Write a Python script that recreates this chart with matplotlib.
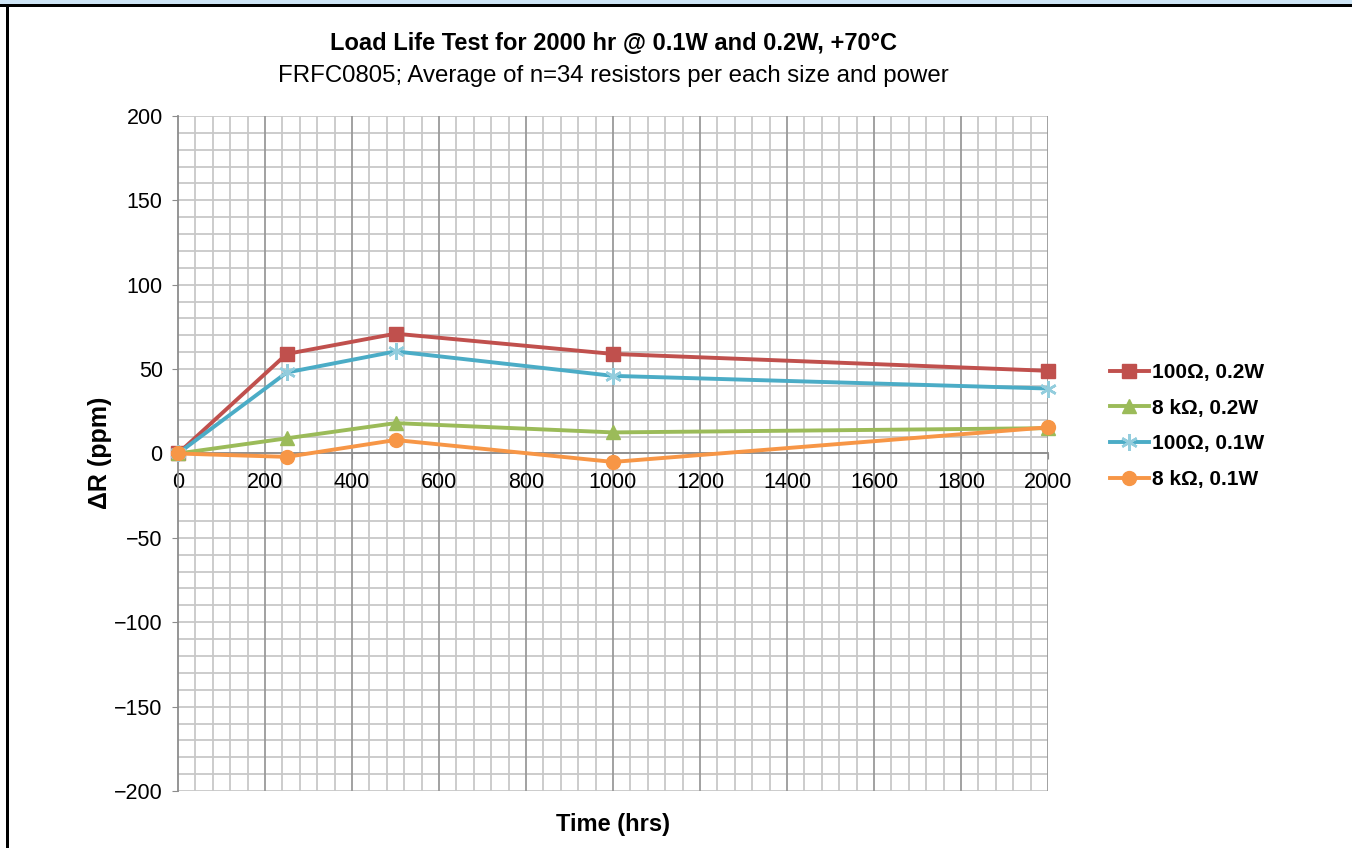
import numpy as np
import matplotlib.pyplot as plt
from matplotlib.patches import Rectangle
from matplotlib.ticker import MultipleLocator

plt.rcParams['font.family'] = ['Liberation Sans', 'DejaVu Sans']

# data
hours = [0, 250, 500, 1000, 2000]
r100_02 = [0, 59, 71, 59, 49]
r8k_02 = [0, 9, 18, 12.5, 15]
r100_01 = [0, 48, 60.5, 46, 38.5]
r8k_01 = [0, -2, 8, -5, 15.5]

series = [
    ('100Ω, 0.2W', r100_02, '#C0504D', 's', 10),
    ('8 kΩ, 0.2W', r8k_02, '#9BBB59', '^', 10),
    ('100Ω, 0.1W', r100_01, '#4BACC6', (6, 2, 0), 12),
    ('8 kΩ, 0.1W', r8k_01, '#F79646', 'o', 10),
]

fig = plt.figure(figsize=(13.52, 8.48), dpi=100)
ax = fig.add_axes([178 / 1352, 1 - 791 / 848, 870 / 1352, 675 / 848])

for label, vals, col, mk, ms in series:
    if mk == (6, 2, 0):
        ax.plot(hours, vals, color=col, lw=2.8, marker=mk, ms=ms, clip_on=False,
                markeredgecolor='#93CDDD', markeredgewidth=1.8, label=label, zorder=3)
    else:
        ax.plot(hours, vals, color=col, lw=2.8, marker=mk, ms=ms, clip_on=False,
                markeredgecolor=col, label=label, zorder=3)

ax.set_xlim(0, 2000)
ax.set_ylim(-200, 200)
ax.xaxis.set_major_locator(MultipleLocator(200))
ax.yaxis.set_major_locator(MultipleLocator(50))

# grid drawn as plain lines so the tick labels stay on top
for x in np.arange(0, 2001, 40):
    if x % 200:
        ax.axvline(x, color='#C8C8C8', lw=1.3, zorder=0.5)
for y in np.arange(-200, 201, 10):
    ax.axhline(y, color='#C8C8C8', lw=1.3, zorder=0.6)
for x in np.arange(200, 2001, 200):
    ax.axvline(x, color='#9A9A9A', lw=1.3, zorder=0.7)

for s in ['top', 'right']:
    ax.spines[s].set_visible(False)
ax.spines['bottom'].set_position(('data', 0))
for s in ['bottom', 'left']:
    ax.spines[s].set_color('#8C8C8C')
    ax.spines[s].set_linewidth(1.3)

ax.tick_params(axis='x', which='major', length=4, pad=9, color='#8C8C8C', labelsize=15.5)
ax.tick_params(axis='y', which='major', length=4, pad=7, color='#8C8C8C', labelsize=15.5)

fig.text(613 / 1352, 1 - 44 / 848, 'Load Life Test for 2000 hr @ 0.1W and 0.2W, +70°C',
         ha='center', va='center', fontsize=17, fontweight='bold')
fig.text(613 / 1352, 1 - 76 / 848, 'FRFC0805; Average of n=34 resistors per each size and power',
         ha='center', va='center', fontsize=17.3)
fig.text(613 / 1352, 1 - 824 / 848, 'Time (hrs)', ha='center', va='center',
         fontsize=17, fontweight='bold')
fig.text(100 / 1352, 1 - 453 / 848, 'ΔR (ppm)', ha='center', va='center',
         rotation=90, fontsize=18, fontweight='bold')

leg = ax.legend(loc='center left', bbox_to_anchor=(1110 / 1352, 1 - 426 / 848),
                bbox_transform=fig.transFigure, frameon=False, handlelength=1.85,
                handletextpad=0.15, labelspacing=0.8, borderpad=0, borderaxespad=0,
                prop={'weight': 'bold', 'size': 15})

# page border pieces
fig.patches.append(Rectangle((0, 1 - 4 / 848), 1, 4 / 848, transform=fig.transFigure,
                             facecolor='#CDE4F5', edgecolor='none'))
fig.patches.append(Rectangle((0, 1 - 6.5 / 848), 1, 2.5 / 848, transform=fig.transFigure,
                             facecolor='black', edgecolor='none'))
fig.patches.append(Rectangle((6 / 1352, 0), 2.5 / 1352, 1 - 6 / 848, transform=fig.transFigure,
                             facecolor='black', edgecolor='none'))

fig.savefig('out.png', dpi=100)
